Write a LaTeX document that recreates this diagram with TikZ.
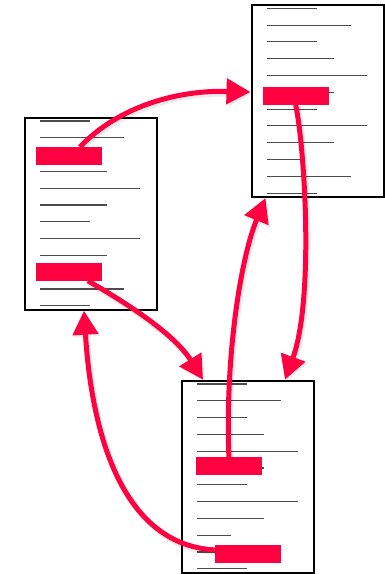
\documentclass[tikz,border=0pt]{standalone}
\usepackage{tikz}
\usetikzlibrary{positioning,arrows.meta,calc}
\usepackage{xcolor}
\definecolor{hilite}{HTML}{FF0040}

% the ruled "text" of one page
\newcommand{\doclines}[1]{%
  \foreach \linelen [count=\i from 0] in {3,5,3,4,6,4,3,6,4,2,5,3}
    \draw[docline] ([xshift=16pt,yshift=-4.3pt-\i*16.8pt]#1.north west) -- ++(\linelen*16.8pt,0pt);%
}

\begin{document}
\begin{tikzpicture}[x=1pt,y=-1pt,
    page/.style={draw,line width=2pt,fill=white,minimum width=132pt,minimum height=192pt,inner sep=0pt},
    docline/.style={black!70,line width=1.1pt},
    hlbox/.style={fill=hilite,minimum width=66pt,minimum height=17.5pt,inner sep=0pt},
    link/.style={hilite,line width=5pt,-{Triangle[length=24pt,width=25pt]},
      preaction={draw=black,opacity=0.08,line width=6.5pt,transform canvas={shift={(1.5pt,-2pt)}}}}]
    \useasboundingbox (0,0) rectangle (384,574);

    % pages
    \node[page] (pageL) at (90.5,213.7) {};
    \node[page] (pageR) at (317.5,101) {};
    \node[page] (pageB) at (248,476.7) {};
    \doclines{pageL}
    \doclines{pageR}
    \doclines{pageB}

    % highlighted passages
    \node[hlbox] (hiL1) at (68.9,155.9) {};
    \node[hlbox] (hiL2) at (68.9,271.9) {};
    \node[hlbox] (hiR) at (295.7,95.8) {};
    \node[hlbox] (hiB1) at (228.9,466) {};
    \node[hlbox] (hiB2) at (247.9,553.9) {};

    % links
    \draw[link] ([xshift=11pt]hiL1.north) .. controls (120,105) and (180,90) .. ([yshift=9pt]pageR.west);
    \draw[link] (hiR.south) .. controls (305,150) and (314,300) .. ([xshift=37pt]pageB.north);
    \draw[link] (hiB1.north) .. controls (225,360) and (240,260) .. ([xshift=-52pt]pageR.south);
    \draw[link] ([xshift=19pt]hiL2.south) .. controls (130,305) and (175,335) .. ([xshift=-45pt]pageB.north);
    \draw[link] ([yshift=4pt]hiB2.west) .. controls (125,545) and (92,440) .. ([xshift=-6.5pt]pageL.south);
\end{tikzpicture}
\end{document}
